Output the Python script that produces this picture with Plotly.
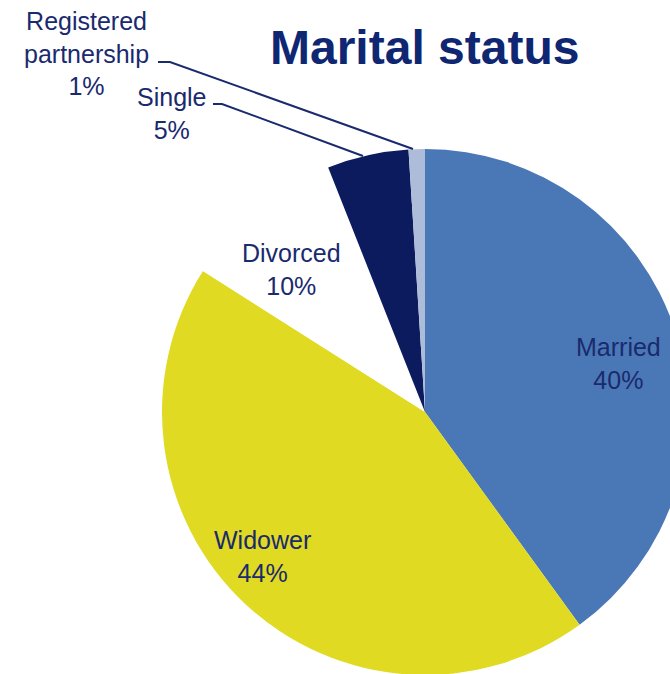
import plotly.graph_objects as go

# ---- data ----
labels = ["Married", "Widower", "Divorced", "Single", "Registered partnership"]
values = [40, 44, 10, 5, 1]
label_lines = ["Married", "Widower", "Divorced", "Single", "Registered<br>partnership"]
colors = ["#4a78b6", "#e0da22", "#ffffff", "#0b1b5e", "#adbdd9"]
title_text = "Marital status"

W, H = 690, 680
TXT = "#1a2a6e"
FONT = "Arial, Liberation Sans, sans-serif"

fig = go.Figure()
fig.add_trace(go.Pie(
    labels=labels, values=values, sort=False, direction="clockwise", rotation=0,
    marker=dict(colors=colors, line=dict(width=0)),
    textinfo="none", hoverinfo="label+percent", showlegend=False,
    domain=dict(x=[162 / W, 688 / W], y=[(H - 675) / H, (H - 149) / H]),
))

# label positions (pixel centres of text blocks)
label_pos = [(618, 363), (262, 556), (291, 269), (172, 113), (86, 53)]
for name, v, (px, py) in zip(label_lines, values, label_pos):
    fig.add_annotation(x=px, y=py, xref="x", yref="y", text=f"{name}<br>{v}%",
                       showarrow=False, font=dict(family=FONT, size=25, color=TXT),
                       xanchor="center", yanchor="middle", align="center")

fig.add_annotation(x=424, y=47, xref="x", yref="y", text=f"<b>{title_text}</b>",
                   showarrow=False, font=dict(family=FONT, size=48, color="#0f2672"),
                   xanchor="center", yanchor="middle")

# leader lines
fig.add_shape(type="path", xref="x", yref="y", path="M 158 62 L 170 62 L 413 149",
              line=dict(color=TXT, width=2))
fig.add_shape(type="path", xref="x", yref="y", path="M 213 104 L 222 104 L 363 156",
              line=dict(color=TXT, width=2))

fig.update_layout(
    width=W, height=H, margin=dict(l=0, r=0, t=0, b=0),
    paper_bgcolor="white", plot_bgcolor="rgba(0,0,0,0)",
    xaxis=dict(range=[0, W], visible=False, fixedrange=True),
    yaxis=dict(range=[H, 0], visible=False, fixedrange=True),
)

fig.write_html("out.html", config={"displayModeBar": False},
               post_script="document.body.style.margin='0';document.body.style.overflow='hidden';")
